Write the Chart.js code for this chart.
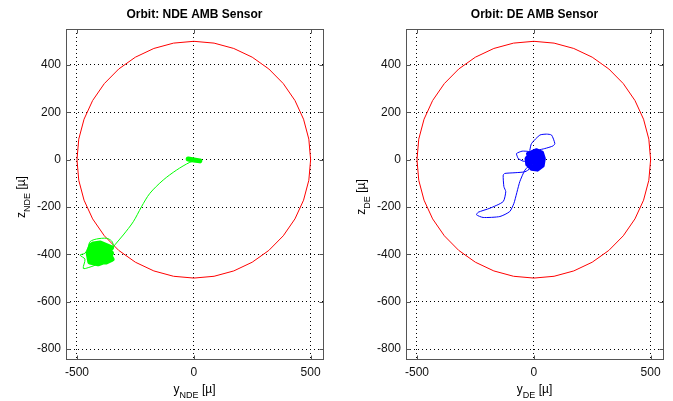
<!DOCTYPE html>
<html lang="en">
<head>
<meta charset="UTF-8">
<title>Orbit: AMB Sensor</title>
<script src="https://cdn.jsdelivr.net/npm/chart.js"></script>
<style>
  body { margin: 0; background: #fff; }
  .plot { position: absolute; top: 0; height: 401px; }
  #left { left: 0; width: 340px; }
  #right { left: 340px; width: 333px; }
</style>
</head>
<body>
<div class="plot" id="left"><canvas id="ndeChart"></canvas></div>
<div class="plot" id="right"><canvas id="deChart"></canvas></div>
<script>
// tick labels
const yTicks = [-500, 0, 500];
const zTicks = [-800, -600, -400, -200, 0, 200, 400];

// clearance circle, r = 500
const circleY = [500, 492.4, 469.8, 433.0, 383.0, 321.4, 250.0, 171.0, 86.8, 0, -86.8, -171.0, -250.0, -321.4, -383.0, -433.0, -469.8, -492.4,
                 -500, -492.4, -469.8, -433.0, -383.0, -321.4, -250.0, -171.0, -86.8, 0, 86.8, 171.0, 250.0, 321.4, 383.0, 433.0, 469.8, 492.4, 500];
const circleZ = [0, 86.8, 171.0, 250.0, 321.4, 383.0, 433.0, 469.8, 492.4, 500, 492.4, 469.8, 433.0, 383.0, 321.4, 250.0, 171.0, 86.8,
                 0, -86.8, -171.0, -250.0, -321.4, -383.0, -433.0, -469.8, -492.4, -500, -492.4, -469.8, -433.0, -383.0, -321.4, -250.0, -171.0, -86.8, 0];

// NDE orbit (green)
const ndeStartY = [-24, 0, 26];
const ndeStartZ = [3, -1, -5];
const ndePathY = [10, -17, -74, -131, -188, -224, -259, -302, -338, -352, -345, -352, -373, -416, -444, -452, -466, -487, -466, -473, -452, -420, -380];
const ndePathZ = [-4, -11, -44, -86, -142, -199, -262, -318, -360, -381, -360, -343, -332, -335, -346, -370, -395, -403, -420, -459, -456, -445, -430];
const ndeCoreY = [-352, -400, -430, -440, -452, -445, -410, -370, -352, -365, -405, -435, -430, -400, -378, -372, -400, -420, -415, -395, -360, -350, -375, -420, -448, -440, -395];
const ndeCoreZ = [-372, -352, -356, -362, -395, -432, -440, -425, -395, -380, -378, -390, -418, -428, -410, -395, -392, -405, -420, -412, -402, -420, -432, -430, -410, -378, -368];

// DE orbit (blue)
const dePathY = [-17, -10, 26, 54, 76, 90, 82, 47, 18, 5, -24, -50, -74, -70, -67, -46, -20, -17, -38, -80, -124, -131, -128, -120, -131, -188, -238, -245, -217, -145, -103, -85, -60, -38, -15];
const dePathZ = [40, 68, 104, 108, 104, 68, 58, 47, 40, 30, 35, 36, 26, 12, 5, -6, -10, -37, -51, -55, -58, -65, -114, -135, -177, -205, -222, -233, -244, -240, -219, -184, -93, -44, -20];
const deCoreY = [-25, 10, 35, 43, 38, 15, -10, -28, -31, -15, 15, 35, 30, 10, -15, -20, 0, 22, 20, 0, -5, 10, 8];
const deCoreZ = [25, 40, 30, 5, -25, -42, -38, -20, 5, 28, 30, 10, -18, -32, -25, 5, 18, 5, -15, -15, 0, 5, -2];

const FONT = 'Arial, "Liberation Sans", sans-serif';

function pts(ys, zs) {
  return ys.map((v, i) => ({ x: v, y: zs[i] }));
}

function line(ys, zs, color, width, smooth) {
  return {
    data: pts(ys, zs),
    showLine: true,
    borderColor: color,
    borderWidth: width,
    borderJoinStyle: 'round',
    borderCapStyle: 'round',
    pointRadius: 0,
    tension: smooth || 0,
    fill: false
  };
}

// text with a subscript: parts = [main, sub, rest]
function subText(ctx, parts, cx, base) {
  const big = '12px ' + FONT, small = '9px ' + FONT;
  ctx.font = big; const w0 = ctx.measureText(parts[0]).width;
  ctx.font = small; const w1 = ctx.measureText(parts[1]).width;
  ctx.font = big; const w2 = ctx.measureText(parts[2]).width;
  let x = cx - (w0 + w1 + w2) / 2;
  ctx.textAlign = 'left';
  ctx.textBaseline = 'alphabetic';
  ctx.font = big; ctx.fillText(parts[0], x, base); x += w0;
  ctx.font = small; ctx.fillText(parts[1], x, base + 5); x += w1;
  ctx.font = big; ctx.fillText(parts[2], x, base);
}

const matlabFrame = {
  id: 'matlabFrame',
  afterDraw(chart, args, opts) {
    const { ctx, chartArea: a, scales: { x, y } } = chart;
    const L = Math.round(a.left) + 0.5, R = Math.round(a.right) + 0.5;
    const T = Math.round(a.top) + 0.5, B = Math.round(a.bottom) - 0.5;
    ctx.save();
    ctx.strokeStyle = '#555';
    ctx.lineWidth = 1;
    ctx.strokeRect(L, T, R - L, B - T);
    ctx.beginPath();
    yTicks.forEach(v => {
      const px = Math.round(x.getPixelForValue(v)) + 0.5;
      ctx.moveTo(px, B); ctx.lineTo(px, B - 4);
      ctx.moveTo(px, T); ctx.lineTo(px, T + 4);
    });
    zTicks.forEach(v => {
      const py = Math.round(y.getPixelForValue(v)) + 0.5;
      ctx.moveTo(L, py); ctx.lineTo(L + 4, py);
      ctx.moveTo(R, py); ctx.lineTo(R - 4, py);
    });
    ctx.stroke();

    ctx.fillStyle = '#000';
    ctx.font = 'bold 12px ' + FONT;
    ctx.textAlign = 'center';
    ctx.textBaseline = 'middle';
    ctx.fillText(opts.title, (a.left + a.right) / 2, 15);

    subText(ctx, opts.xLabel, (a.left + a.right) / 2, 393);

    ctx.translate(25, 197);
    ctx.rotate(-Math.PI / 2);
    subText(ctx, opts.yLabel, 0, 0);
    ctx.restore();
  }
};

function makeChart(id, rightPad, orbit, title, xLabel, yLabel) {
  return new Chart(document.getElementById(id), {
    type: 'scatter',
    data: { datasets: orbit.concat([line(circleY, circleZ, '#ff0000', 1)]) },
    options: {
      responsive: true,
      maintainAspectRatio: false,
      animation: false,
      layout: { padding: { top: 29, left: 0, right: rightPad, bottom: 0 } },
      plugins: {
        legend: { display: false },
        tooltip: { enabled: false },
        matlabFrame: { title: title, xLabel: xLabel, yLabel: yLabel }
      },
      scales: {
        x: {
          type: 'linear', min: -547, max: 553,
          afterFit: s => { s.height = 41; },
          afterBuildTicks: s => { s.ticks = yTicks.map(v => ({ value: v })); },
          grid: { color: '#000', lineWidth: 1, drawTicks: false },
          border: { display: false, dash: [1, 3] },
          ticks: { padding: 5, color: '#111', font: { family: FONT, size: 12 } }
        },
        y: {
          type: 'linear', min: -846, max: 552,
          afterFit: s => { s.width = 66; },
          afterBuildTicks: s => { s.ticks = zTicks.map(v => ({ value: v })); },
          grid: { color: '#000', lineWidth: 1, drawTicks: false },
          border: { display: false, dash: [1, 3] },
          ticks: { padding: 5, color: '#111', font: { family: FONT, size: 12 } }
        }
      }
    },
    plugins: [matlabFrame]
  });
}

makeChart('ndeChart', 17, [
  line(ndeStartY, ndeStartZ, '#00ff00', 5),
  line(ndeCoreY, ndeCoreZ, '#00ff00', 5),
  line(ndePathY, ndePathZ, '#00ff00', 1, 0.3)
], 'Orbit: NDE AMB Sensor', ['y', 'NDE', ' [µ]'], ['z', 'NDE', ' [µ]']);

makeChart('deChart', 10, [
  line(deCoreY, deCoreZ, '#0000ff', 4),
  line(dePathY, dePathZ, '#0000ff', 1, 0.2)
], 'Orbit: DE AMB Sensor', ['y', 'DE', ' [µ]'], ['z', 'DE', ' [µ]']);
</script>
</body>
</html>
